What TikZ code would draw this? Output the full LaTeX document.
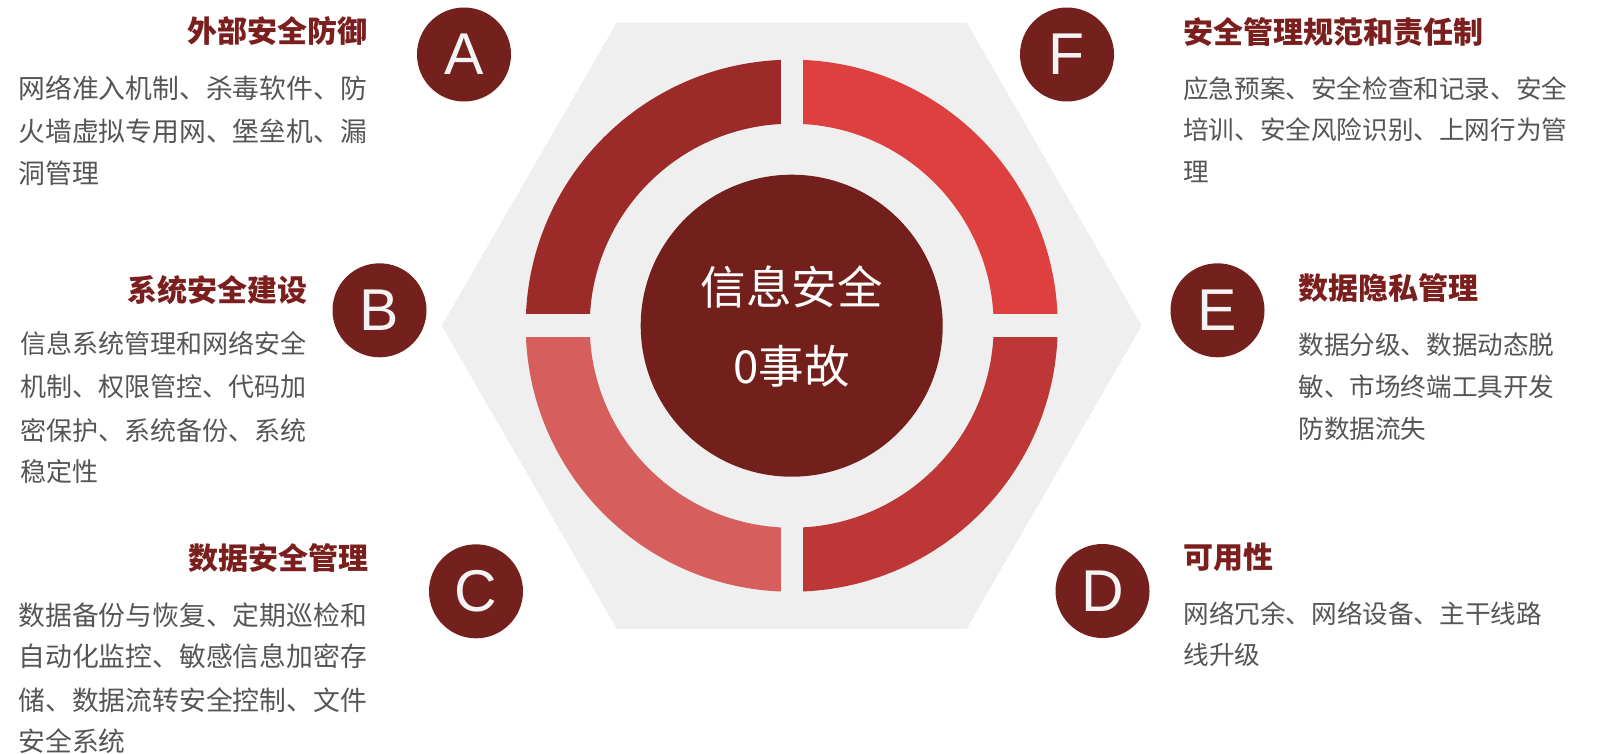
\documentclass[tikz,border=0pt]{standalone}
\usepackage{fontspec}
\newfontfamily\cjk{Noto Sans CJK SC}
\newfontfamily\lat{Liberation Sans}
\definecolor{hexcol}{HTML}{EFEFEF}
\definecolor{segUL}{HTML}{9C2A28}
\definecolor{segUR}{HTML}{DE3F3F}
\definecolor{segLR}{HTML}{BC3735}
\definecolor{segLL}{HTML}{D65F5D}
\definecolor{corecol}{HTML}{73201C}
\definecolor{badgecol}{HTML}{74201C}
\definecolor{titlecol}{HTML}{7A1F1E}
\definecolor{bodycol}{HTML}{555555}
\definecolor{lettercol}{HTML}{F4F4F4}
\tikzset{
  titletext/.style={font=\cjk\bfseries\fontsize{30}{30}\selectfont, text=titlecol, inner sep=0pt},
  bodyL/.style={font=\cjk\fontsize{26.8}{26.8}\selectfont, text=bodycol, inner sep=0pt, anchor=base west},
  bodyB/.style={font=\cjk\fontsize{26}{26}\selectfont, text=bodycol, inner sep=0pt, anchor=base west},
  bodyR/.style={font=\cjk\fontsize{25.6}{25.6}\selectfont, text=bodycol, inner sep=0pt, anchor=base west},
  badge/.style={circle, fill=badgecol, minimum size=94pt, inner sep=0pt, text=lettercol, font=\lat\fontsize{59}{59}\selectfont},
  corecircle/.style={circle, fill=corecol, minimum size=302pt, inner sep=0pt},
  coretext/.style={font=\cjk\fontsize{45.5}{45.5}\selectfont, text=white, inner sep=0pt, anchor=base}
}
\begin{document}
\begin{tikzpicture}[x=1pt,y=-1pt]
\useasboundingbox (0,0) rectangle (1602,753);
\coordinate (C) at (791.7,325.7);
% hexagon
\fill[hexcol] (C) +(0:350) -- +(60:350) -- +(120:350) -- +(180:350) -- +(240:350) -- +(300:350) -- cycle;
% ring quadrants
\begin{scope}
\clip (0,0) rectangle (C);
\fill[segUL, even odd rule] (C) circle[radius=266pt] (C) circle[radius=202pt];
\end{scope}
\begin{scope}
\clip (C) rectangle (1602,0);
\fill[segUR, even odd rule] (C) circle[radius=266pt] (C) circle[radius=202pt];
\end{scope}
\begin{scope}
\clip (C) rectangle (1602,753);
\fill[segLR, even odd rule] (C) circle[radius=266pt] (C) circle[radius=202pt];
\end{scope}
\begin{scope}
\clip (C) rectangle (0,753);
\fill[segLL, even odd rule] (C) circle[radius=266pt] (C) circle[radius=202pt];
\end{scope}
% gaps
\fill[hexcol] (780.5,50) rectangle (802.9,600);
\fill[hexcol] (515,314.3) rectangle (1068,337.2);
% core
\node[corecircle] (core) at (C) {};
\node[coretext] (core1) at (791.7,304.8) {信息安全};
\node[coretext] (core2) at (791.7,383.1) {0事故};
% badges
\node[badge] (A) at (464,54.5) {A};
\node[badge] (B) at (379.5,310.3) {B};
\node[badge] (Cb) at (476,591.3) {C};
\node[badge] (D) at (1102.5,591) {D};
\node[badge] (E) at (1217.5,310.3) {E};
\node[badge] (F) at (1067,54.5) {F};
% A
\node[titletext, anchor=base east] (At) at (368,42.4) {外部安全防御};
\node[bodyL] (A1) at (18.3,98.5) {网络准入机制、杀毒软件、防};
\node[bodyL] (A2) at (18.3,141.5) {火墙虚拟专用网、堡垒机、漏};
\node[bodyL] (A3) at (18.3,183.5) {洞管理};
% B
\node[titletext, anchor=base east] (Bt) at (308,301.4) {系统安全建设};
\node[bodyB] (B1) at (20,353.3) {信息系统管理和网络安全};
\node[bodyB] (B2) at (20,396.7) {机制、权限管控、代码加};
\node[bodyB] (B3) at (20,440) {密保护、系统备份、系统};
\node[bodyB] (B4) at (20,481.7) {稳定性};
% C
\node[titletext, anchor=base east] (Ct) at (369,569.4) {数据安全管理};
\node[bodyL] (C1) at (18.3,625.2) {数据备份与恢复、定期巡检和};
\node[bodyL] (C2) at (18.3,666.9) {自动化监控、敏感信息加密存};
\node[bodyL] (C3) at (18.3,710.2) {储、数据流转安全控制、文件};
\node[bodyL] (C4) at (18.3,751.9) {安全系统};
% F
\node[titletext, anchor=base west] (Ft) at (1183,43.1) {安全管理规范和责任制};
\node[bodyR] (F1) at (1183,98.2) {应急预案、安全检查和记录、安全};
\node[bodyR] (F2) at (1183,139.9) {培训、安全风险识别、上网行为管};
\node[bodyR] (F3) at (1183,181.6) {理};
% E
\node[titletext, anchor=base west] (Et) at (1298.3,299.7) {数据隐私管理};
\node[bodyR] (E1) at (1298.3,354.9) {数据分级、数据动态脱};
\node[bodyR] (E2) at (1298.3,396.6) {敏、市场终端工具开发};
\node[bodyR] (E3) at (1298.3,438.2) {防数据流失};
% D
\node[titletext, anchor=base west] (Dt) at (1183.3,568.7) {可用性};
\node[bodyR] (D1) at (1183.3,623.9) {网络冗余、网络设备、主干线路};
\node[bodyR] (D2) at (1183.3,664.9) {线升级};
\end{tikzpicture}
\end{document}
